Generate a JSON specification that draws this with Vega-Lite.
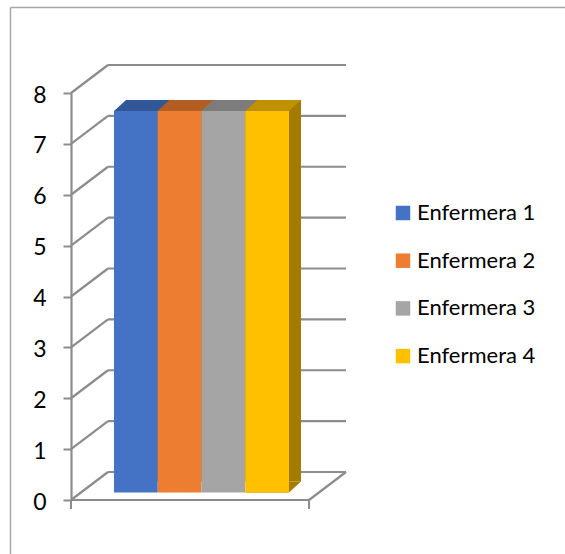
{
  "$schema": "https://vega.github.io/schema/vega-lite/v6.json",
  "width": 238,
  "height": 407,
  "autosize": {"type": "none"},
  "padding": {"left": 108, "top": 93, "right": 219, "bottom": 54},
  "background": "white",
  "config": {"view": {"stroke": null}},
  "datasets": {
    "nurses": [
      {"nurse": "Enfermera 1", "value": 7.5},
      {"nurse": "Enfermera 2", "value": 7.5},
      {"nurse": "Enfermera 3", "value": 7.5},
      {"nurse": "Enfermera 4", "value": 7.5}
    ],
    "ticks": [{"v": 0}, {"v": 1}, {"v": 2}, {"v": 3}, {"v": 4}, {"v": 5}, {"v": 6}, {"v": 7}, {"v": 8}]
  },
  "layer": [
    {
      "data": {"values": [{}]},
      "mark": {"type": "rule", "color": "#A6A6A6", "strokeWidth": 1.5},
      "encoding": {"x": {"value": -97.5}, "x2": {"value": 470}, "y": {"value": -85.5}}
    },
    {
      "data": {"values": [{}]},
      "mark": {"type": "rule", "color": "#A6A6A6", "strokeWidth": 1.5},
      "encoding": {"x": {"value": -97.5}, "y": {"value": -85.5}, "y2": {"value": 470}}
    },
    {
      "data": {"name": "ticks"},
      "mark": {"type": "rule", "color": "#8C8C8C", "strokeWidth": 2.2, "yOffset": -28},
      "encoding": {"y": {"field": "v", "type": "quantitative", "title": null}}
    },
    {
      "data": {"name": "ticks"},
      "mark": {"type": "rule", "color": "#8C8C8C", "strokeWidth": 2.2, "y2Offset": -28},
      "encoding": {
        "x": {"value": -37}, "x2": {"value": 0},
        "y": {"field": "v", "type": "quantitative", "title": null},
        "y2": {"field": "v"}
      }
    },
    {
      "data": {"values": [{}]},
      "mark": {"type": "rule", "color": "#8C8C8C", "strokeWidth": 2.2},
      "encoding": {"x": {"value": -37}, "x2": {"value": 201}, "y": {"datum": 0, "type": "quantitative", "title": null}}
    },
    {
      "data": {"values": [{}]},
      "mark": {"type": "rule", "color": "#8C8C8C", "strokeWidth": 2.2, "y2Offset": -28},
      "encoding": {"x": {"value": 201}, "x2": {"value": 238}, "y": {"datum": 0, "type": "quantitative", "title": null}, "y2": {"datum": 0}}
    },
    {
      "data": {"values": [{}]},
      "mark": {"type": "rule", "color": "#8C8C8C", "strokeWidth": 2, "y2Offset": 9},
      "encoding": {"x": {"value": -37}, "y": {"datum": 0, "type": "quantitative", "title": null}, "y2": {"datum": 0}}
    },
    {
      "data": {"values": [{}]},
      "mark": {"type": "rule", "color": "#8C8C8C", "strokeWidth": 2, "y2Offset": 9},
      "encoding": {"x": {"value": 201}, "y": {"datum": 0, "type": "quantitative", "title": null}, "y2": {"datum": 0}}
    },
    {
      "data": {"name": "nurses"},
      "mark": {"type": "bar", "color": "#A37B00", "xOffset": 12, "x2Offset": 12, "yOffset": -18.5, "y2Offset": -18.5},
      "encoding": {
        "x": {"field": "nurse", "type": "nominal", "axis": null},
        "y": {"field": "value", "type": "quantitative", "title": null}
      }
    },
    {
      "data": {"name": "nurses"},
      "transform": [{"filter": "datum.nurse === 'Enfermera 4'"}],
      "mark": {"type": "point", "shape": "M -0.547 0 L 0.547 0 L 0.847 -0.275 L -0.247 -0.275 Z", "size": 6400, "filled": true, "opacity": 1, "strokeWidth": 0, "color": "#A37B00", "yOffset": -7.5},
      "encoding": {
        "x": {"field": "nurse", "type": "nominal", "axis": null},
        "y": {"datum": 0, "type": "quantitative", "title": null}
      }
    },
    {
      "data": {"name": "nurses"},
      "mark": {"type": "bar", "yOffset": -7.5, "y2Offset": -7.5},
      "encoding": {
        "x": {"field": "nurse", "type": "nominal", "axis": null, "scale": {"range": [6, 181], "paddingInner": 0, "paddingOuter": 0}},
        "y": {
          "field": "value", "type": "quantitative", "title": null,
          "scale": {"domain": [0, 8], "nice": false},
          "axis": {
            "values": [0, 1, 2, 3, 4, 5, 6, 7, 8], "title": null, "offset": 37, "grid": false,
            "domainColor": "#8C8C8C", "domainWidth": 2.2, "tickColor": "#8C8C8C", "tickWidth": 2, "tickSize": 8,
            "labelFont": "Lato", "labelFontSize": 23, "labelColor": "#000000", "labelPadding": 17, "labelOffset": 2
          }
        },
        "color": {
          "field": "nurse", "type": "nominal",
          "scale": {"domain": ["Enfermera 1", "Enfermera 2", "Enfermera 3", "Enfermera 4"], "range": ["#4472C4", "#ED7D31", "#A5A5A5", "#FFC000"]},
          "legend": {
            "orient": "none", "legendX": 284, "legendY": 109, "title": null,
            "symbolType": "square", "symbolSize": 210, "symbolStrokeWidth": 0, "symbolOpacity": 1,
            "labelFont": "Lato", "labelFontSize": 22, "labelColor": "#000000", "rowPadding": 25.7, "labelOffset": 3
          }
        }
      }
    },
    {
      "data": {"name": "nurses"},
      "mark": {"type": "point", "shape": "M -0.547 0 L 0.547 0 L 0.847 -0.275 L -0.247 -0.275 Z", "size": 6400, "filled": true, "opacity": 1, "strokeWidth": 0, "yOffset": -7.5},
      "encoding": {
        "x": {"field": "nurse", "type": "nominal", "axis": null},
        "y": {"field": "value", "type": "quantitative", "title": null},
        "color": {
          "field": "nurse", "type": "nominal",
          "scale": {"domain": ["Enfermera 1", "Enfermera 2", "Enfermera 3", "Enfermera 4"], "range": ["#325799", "#B35D22", "#7C7C7C", "#BF9000"]},
          "legend": null
        }
      }
    }
  ],
  "resolve": {"scale": {"color": "independent"}, "legend": {"color": "independent"}}
}
